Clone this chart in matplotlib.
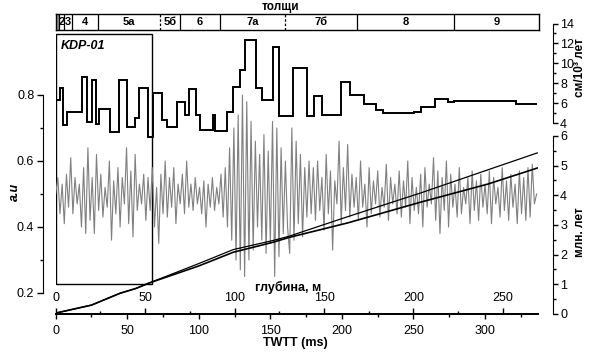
import numpy as np
import matplotlib
matplotlib.use('Agg')
import matplotlib.pyplot as plt
from matplotlib.patches import Rectangle
from matplotlib.ticker import FixedLocator

plt.rcParams['font.family'] = ['Liberation Sans', 'DejaVu Sans']
plt.rcParams['font.size'] = 9

# --- данные ---
# сейсмическая трасса (a.u), шаг по TWTT 1.5 мс
TRACE_DT = 1.5
trace = [
    0.50, 0.55, 0.44, 0.53, 0.41, 0.56, 0.46, 0.61, 0.44, 0.55, 0.47, 0.53, 0.40, 0.58, 0.38, 0.64, 0.42, 0.55, 0.38, 0.62,
    0.45, 0.56, 0.43, 0.52, 0.46, 0.60, 0.36, 0.54, 0.44, 0.58, 0.40, 0.55, 0.47, 0.64, 0.41, 0.57, 0.37, 0.62, 0.45, 0.53,
    0.47, 0.56, 0.42, 0.55, 0.45, 0.58, 0.40, 0.52, 0.35, 0.56, 0.44, 0.60, 0.43, 0.55, 0.46, 0.58, 0.41, 0.53, 0.47, 0.56,
    0.44, 0.60, 0.46, 0.53, 0.45, 0.55, 0.47, 0.52, 0.44, 0.54, 0.40, 0.53, 0.46, 0.55, 0.45, 0.52, 0.47, 0.56, 0.43, 0.58,
    0.40, 0.64, 0.36, 0.70, 0.30, 0.74, 0.27, 0.80, 0.25, 0.78, 0.30, 0.72, 0.33, 0.66, 0.40, 0.62, 0.36, 0.68, 0.32, 0.63,
    0.35, 0.72, 0.25, 0.70, 0.31, 0.64, 0.38, 0.60, 0.40, 0.32, 0.70, 0.36, 0.66, 0.41, 0.62, 0.37, 0.58, 0.43, 0.60, 0.44,
    0.58, 0.42, 0.60, 0.45, 0.55, 0.39, 0.62, 0.44, 0.57, 0.33, 0.54, 0.47, 0.66, 0.41, 0.58, 0.45, 0.65, 0.43, 0.56, 0.46,
    0.55, 0.42, 0.60, 0.46, 0.53, 0.40, 0.58, 0.44, 0.54, 0.47, 0.57, 0.43, 0.52, 0.46, 0.59, 0.42, 0.55, 0.47, 0.53, 0.44,
    0.57, 0.43, 0.54, 0.46, 0.60, 0.41, 0.55, 0.45, 0.52, 0.44, 0.56, 0.40, 0.58, 0.46, 0.53, 0.47, 0.61, 0.42, 0.57, 0.38,
    0.55, 0.45, 0.60, 0.40, 0.56, 0.46, 0.53, 0.43, 0.58, 0.44, 0.52, 0.47, 0.55, 0.41, 0.57, 0.45, 0.54, 0.42, 0.56, 0.46,
    0.53, 0.44, 0.57, 0.41, 0.55, 0.47, 0.52, 0.43, 0.58, 0.45, 0.54, 0.42, 0.56, 0.46, 0.53, 0.41, 0.57, 0.44, 0.55, 0.42,
    0.58, 0.43, 0.59, 0.47, 0.50,
]

# скорость осадконакопления (см/10^3 лет), ступенчатая
rate_edges = [0, 3.0, 5.3, 7.7, 18.1, 22.0, 25.1, 28.1, 30.4, 37.9, 44.2, 49.5, 55.3, 58.3, 64.6, 68.1,
              74.4, 77.7, 84.6, 90.2, 93.0, 97.9, 100.7, 109.7, 111.1, 119.5, 123.7, 128.6, 132.1, 139.8,
              144.0, 151.7, 155.9, 165.7, 175.3, 180.2, 185.8, 199.0, 205.3, 215.1, 223.5, 228.4, 250.7,
              254.9, 264.7, 274.4, 278.6, 321.9, 336.5]
rate_values = [6.3, 7.5, 3.8, 5.1, 8.6, 4.1, 8.3, 3.9, 5.4, 3.1, 8.3, 3.6, 4.5, 7.5, 2.6,
               7.0, 4.3, 3.6, 6.1, 4.8, 7.4, 4.8, 3.3, 4.8, 3.2, 5.1, 7.6, 9.3, 12.3,
               7.5, 6.3, 11.6, 4.7, 9.5, 4.7, 6.7, 4.8, 8.1, 6.8, 5.9, 5.3, 5.0,
               5.1, 5.6, 6.4, 6.1, 6.2, 5.9]

# возрастные модели (млн. лет)
age_twtt = [0, 25, 45, 56, 65, 100, 124, 152, 163, 204, 255, 302, 336.5]
age_a = [0.03, 0.30, 0.70, 0.86, 1.04, 1.70, 2.17, 2.48, 2.62, 3.28, 4.08, 4.86, 5.43]
age_b = [0.03, 0.30, 0.70, 0.86, 1.04, 1.62, 2.08, 2.42, 2.58, 3.07, 3.77, 4.38, 4.92]

# толщи (границы по TWTT, мс)
strata_edges = [0, 2.3, 6.0, 11.2, 29.7, 72.8, 86.7, 114.6, 160.0, 210.2, 277.9, 337.0]
strata_names = ['', '2', '3', '4', '5а', '5б', '6', '7а', '7б', '8', '9']
strata_dashed = [72.8, 160.0]

DEPTH_PER_MS = 0.8
KDP_BOX = (0, 0.227, 67.2, 0.985)

W, H = 596, 354
fig = plt.figure(figsize=(W / 100, H / 100), dpi=100)

def px_box(x0, y0, x1, y1):
    return [x0 / W, 1 - y1 / H, (x1 - x0) / W, (y1 - y0) / H]

ax = fig.add_axes(px_box(55.7, 14, 538, 314))
ax.set_xlim(0, 337)
ax.set_ylim(0.13636, 1.04545)
ax.patch.set_visible(False)

t = np.arange(len(trace)) * TRACE_DT
ax.plot(t, trace, color='#808080', lw=0.8)

x0, y0, x1, y1 = KDP_BOX
ax.add_patch(Rectangle((x0, y0), x1 - x0, y1 - y0, fill=False, ec='black', lw=1.0))
ax.text(3.5, 0.948, 'KDP-01', fontsize=9, fontweight='bold', fontstyle='italic', va='center')

for s in ['top', 'right']:
    ax.spines[s].set_visible(False)
ax.spines['left'].set_position(('outward', 9.1))
ax.spines['left'].set_bounds(0.2, 0.8)
ax.spines['bottom'].set_linewidth(1.3)
ax.yaxis.set_major_locator(FixedLocator([0.2, 0.4, 0.6, 0.8]))
ax.yaxis.set_minor_locator(FixedLocator([0.3, 0.5, 0.7]))
ax.set_yticklabels(['0.2', '0.4', '0.6', '0.8'])
ax.xaxis.set_major_locator(FixedLocator([0, 50, 100, 150, 200, 250, 300]))
ax.xaxis.set_minor_locator(FixedLocator([25, 75, 125, 175, 225, 275, 325]))
ax.tick_params(axis='y', which='major', length=4.3, width=1, pad=2)
ax.tick_params(axis='y', which='minor', length=2.5, width=1)
ax.tick_params(axis='x', which='major', length=3.6, width=1, pad=4.5)
ax.tick_params(axis='x', which='minor', length=2.2, width=1)

# глубина
sec = ax.secondary_xaxis(0, functions=(lambda v: v * DEPTH_PER_MS, lambda d: d / DEPTH_PER_MS))
sec.set_alignment('top')
sec.xaxis.set_major_locator(FixedLocator([0, 50, 100, 150, 200, 250]))
sec.xaxis.set_minor_locator(FixedLocator([25, 75, 125, 175, 225, 275]))
sec.tick_params(axis='x', which='major', direction='out', length=4.3, width=1, pad=3)
sec.tick_params(axis='x', which='minor', direction='out', length=2.2, width=1)
sec.spines['top'].set_linewidth(1.3)

# скорость осадконакопления
ax2 = ax.twinx()
ax2.set_ylim(-15.196, 14.955)
ax2.stairs(rate_values, rate_edges, baseline=None, color='black', lw=1.4)
for s in ['top', 'left', 'bottom']:
    ax2.spines[s].set_visible(False)
ax2.spines['right'].set_position(('outward', 10.8))
ax2.spines['right'].set_bounds(4, 14)
ax2.yaxis.set_major_locator(FixedLocator([4, 6, 8, 10, 12, 14]))
ax2.yaxis.set_minor_locator(FixedLocator([5, 7, 9, 11, 13]))
ax2.tick_params(axis='y', which='major', length=3.6, width=1, pad=1.5)
ax2.tick_params(axis='y', which='minor', length=2.2, width=1)

# возраст
ax3 = ax.twinx()
ax3.set_ylim(0, 10.112)
ax3.plot(age_twtt, age_a, color='black', lw=0.9)
ax3.plot(age_twtt, age_b, color='black', lw=1.2)
for s in ['top', 'left', 'bottom']:
    ax3.spines[s].set_visible(False)
ax3.spines['right'].set_position(('outward', 10.8))
ax3.spines['right'].set_bounds(0, 6)
ax3.yaxis.set_major_locator(FixedLocator([0, 1, 2, 3, 4, 5, 6]))
ax3.yaxis.set_minor_locator(FixedLocator([0.5, 1.5, 2.5, 3.5, 4.5, 5.5]))
ax3.tick_params(axis='y', which='major', length=3.6, width=1, pad=1.5)
ax3.tick_params(axis='y', which='minor', length=2.2, width=1)

# толщи
sax = fig.add_axes(px_box(55.7, 14, 539, 30))
sax.set_xlim(strata_edges[0], strata_edges[-1])
sax.set_ylim(0, 1)
sax.set_xticks([])
sax.set_yticks([])
for s in sax.spines.values():
    s.set_linewidth(1.0)
sax.axvspan(strata_edges[0], strata_edges[1], color='#909090', lw=0)
for e in strata_edges[1:-1]:
    sax.axvline(e, color='black', lw=0.9, ls=(0, (2, 1.5)) if e in strata_dashed else '-')
for a, b, name in zip(strata_edges[:-1], strata_edges[1:], strata_names):
    sax.text((a + b) / 2, 0.5, name, ha='center', va='center', fontsize=8, fontweight='bold')

fig.text(280 / W, 1 - 7 / H, 'толщи', ha='center', va='center', fontsize=8.5, fontweight='bold')
fig.text(15 / W, 1 - 192 / H, 'a.u', rotation=90, ha='center', va='center',
         fontsize=9, fontweight='bold', fontstyle='italic')
fig.text(288 / W, 1 - 287 / H, 'глубина, м', ha='center', va='center', fontsize=9, fontweight='bold')
fig.text(295 / W, 1 - 343 / H, 'TWTT (ms)', ha='center', va='center', fontsize=9, fontweight='bold')
fig.text(580 / W, 1 - 68 / H, 'см/10³ лет', rotation=90, ha='center', va='center', fontsize=8.5, fontweight='bold')
fig.text(580 / W, 1 - 232 / H, 'млн. лет', rotation=90, ha='center', va='center', fontsize=8.5, fontweight='bold')

fig.savefig('out.png', dpi=100)
